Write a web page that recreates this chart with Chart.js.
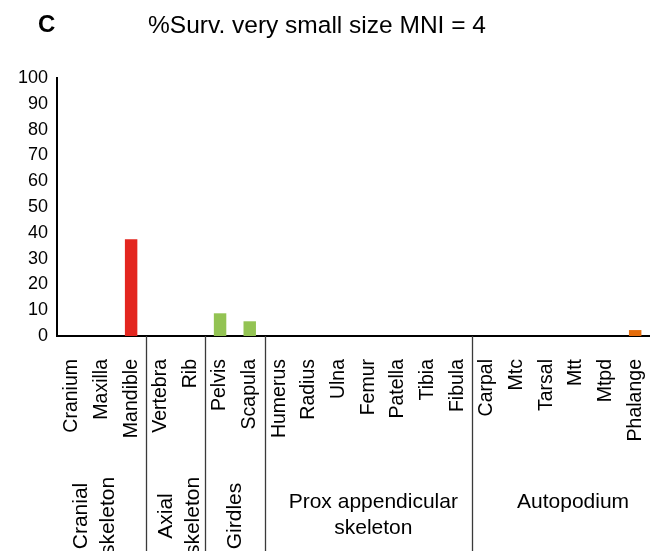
<!DOCTYPE html>
<html>
<head>
<meta charset="utf-8">
<script src="https://cdn.jsdelivr.net/npm/chart.js@4"></script>
<style>
html,body{margin:0;padding:0;background:#fff;}
canvas{display:block;}
</style>
</head>
<body>
<canvas id="c" width="650" height="551"></canvas>
<script>
const categories = ['Cranium','Maxilla','Mandible','Vertebra','Rib','Pelvis','Scapula','Humerus','Radius','Ulna','Femur','Patella','Tibia','Fibula','Carpal','Mtc','Tarsal','Mtt','Mtpd','Phalange'];
const survival = [0,0,37.5,0,0,8.8,5.7,0,0,0,0,0,0,0,0,0,0,0,0,2.3];
const yTicks = [0,10,20,30,40,50,60,70,80,90,100];
const groupNames = [['Cranial','skeleton'],['Axial','skeleton'],['Girdles'],['Prox appendicular','skeleton'],['Autopodium']];
const groupStart = [0,3,5,7,14];
const groupEnd = [2,4,6,13,19];
const titleText = '%Surv. very small size MNI = 4';
const panelLetter = 'C';

// styles
const groupColors = ['#E3261F','#E3261F','#93C353','#93C353','#E46C0A'];
const groupVertical = [true,true,true,false,false];
const groupDx = [-7,4,0,5,12];
const FONT = '"Liberation Sans", Arial, sans-serif';

const barColors = categories.map((c,i)=>{
  for (let g=0; g<groupStart.length; g++) if (i>=groupStart[g] && i<=groupEnd[g]) return groupColors[g];
  return '#000';
});

const annot = {
  id:'annot',
  afterDraw(chart){
    const ctx = chart.ctx, x = chart.scales.x, area = chart.chartArea;
    const H = chart.height;
    ctx.save();
    // title
    ctx.fillStyle = '#000';
    ctx.textBaseline = 'alphabetic';
    ctx.font = 'bold 24px ' + FONT;
    ctx.textAlign = 'left';
    ctx.fillText(panelLetter, 38, 32);
    ctx.font = '24.5px ' + FONT;
    ctx.textAlign = 'center';
    ctx.fillText(titleText, 317, 33);
    // separators
    const half = (x.getPixelForValue(1) - x.getPixelForValue(0)) / 2;
    ctx.strokeStyle = '#3a3a3a';
    ctx.lineWidth = 1.3;
    for (let g=1; g<groupStart.length; g++){
      const px = Math.round(x.getPixelForValue(groupStart[g]) - half) + 0.5;
      ctx.beginPath();
      ctx.moveTo(px, area.bottom);
      ctx.lineTo(px, H);
      ctx.stroke();
    }
    // group labels
    ctx.font = '21px ' + FONT;
    ctx.fillStyle = '#000';
    for (let g=0; g<groupStart.length; g++){
      const left = x.getPixelForValue(groupStart[g]) - half;
      const right = x.getPixelForValue(groupEnd[g]) + half;
      const cx = (left + right)/2 + groupDx[g];
      const lines = groupNames[g];
      const lh = 26;
      if (groupVertical[g]){
        ctx.save();
        ctx.translate(cx, 516);
        ctx.rotate(-Math.PI/2);
        ctx.textAlign = 'center';
        ctx.textBaseline = 'middle';
        lines.forEach((t,k)=>{
          ctx.fillText(t, 0, (k - (lines.length-1)/2) * 27.5);
        });
        ctx.restore();
      } else {
        ctx.textAlign = 'center';
        ctx.textBaseline = 'middle';
        lines.forEach((t,k)=>{
          ctx.fillText(t, cx, 502 + k*lh);
        });
      }
    }
    ctx.restore();
  }
};

new Chart(document.getElementById('c'), {
  type:'bar',
  data:{
    labels: categories,
    datasets:[{
      data: survival,
      backgroundColor: barColors,
      borderWidth: 0,
      barPercentage: 0.42,
      categoryPercentage: 1.0
    }]
  },
  options:{
    responsive:false,
    animation:false,
    devicePixelRatio:1,
    layout:{padding:{top:78,left:0,right:0,bottom:0}},
    plugins:{legend:{display:false},tooltip:{enabled:false},title:{display:false}},
    scales:{
      x:{
        offset:true,
        grid:{display:false, drawTicks:false},
        border:{display:true,color:'#000',width:2},
        ticks:{
          autoSkip:false, maxRotation:90, minRotation:90, padding:23,
          color:'#000', font:{family:FONT,size:19.5}
        },
        afterFit(s){ s.height = 215; s.paddingRight = 0; s.paddingLeft = 0; }
      },
      y:{
        min:0, max:100,
        grid:{display:false, drawTicks:false},
        border:{display:true,color:'#000',width:2},
        afterBuildTicks(s){ s.ticks = yTicks.map(v=>({value:v})); },
        ticks:{ padding:9, color:'#000', font:{family:FONT,size:18} },
        afterFit(s){ s.width = 57; }
      }
    }
  },
  plugins:[annot]
});
</script>
</body>
</html>
